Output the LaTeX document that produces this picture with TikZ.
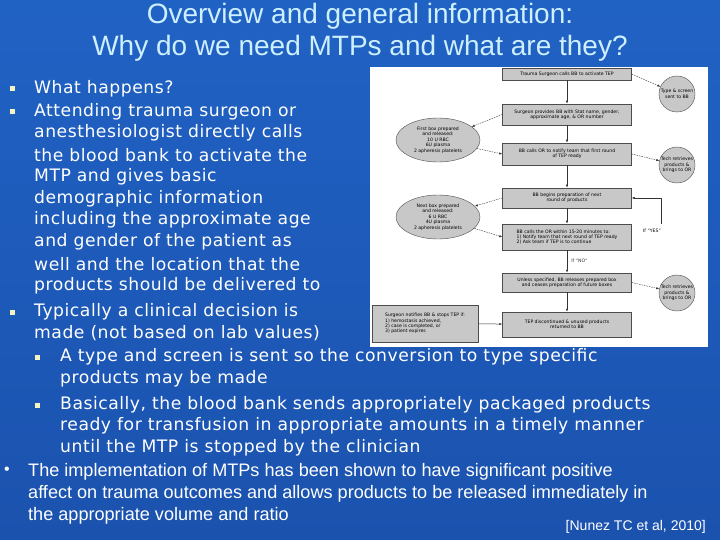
\documentclass[tikz,border=0pt]{standalone}
\usepackage{fontspec}
\setmainfont{DejaVu Sans}
\newfontfamily\arialf{Liberation Sans}
\newfontfamily\bodyf[LetterSpace=3]{DejaVu Sans}
\usetikzlibrary{arrows.meta,shapes.geometric}
\definecolor{bg}{HTML}{2062C4}
\definecolor{bgd}{HTML}{1B52AE}
\definecolor{ttl}{HTML}{CDEFFF}
\definecolor{bul}{HTML}{F4F4C0}
\definecolor{fbox}{HTML}{C8C8C8}
\tikzset{
  line/.style={anchor=west,text=white,font=\bodyf\fontsize{17.2}{19}\selectfont,inner sep=0pt},
  sq/.style={fill=bul,minimum size=5pt,inner sep=0pt},
  fb/.style={draw=black!70,fill=fbox,line width=0.5pt,font=\fontsize{4.6}{5.4}\selectfont,align=center,inner sep=1pt},
  el/.style={draw=black!70,fill=fbox,ellipse,font=\fontsize{4.6}{5.4}\selectfont,align=center,inner sep=0pt},
  ci/.style={draw=black!70,fill=fbox,circle,font=\fontsize{4.6}{5.4}\selectfont,align=center,inner sep=0pt,minimum size=36pt},
  ar/.style={-{Latex[length=3pt]},line width=0.5pt,black!80},
  da/.style={-{Latex[length=3pt]},line width=0.4pt,black!80,dashed,dash pattern=on 1.5pt off 1pt},
  lab/.style={font=\fontsize{4.6}{5.4}\selectfont,inner sep=0pt}
}
\begin{document}
\begin{tikzpicture}[x=1pt,y=-1pt]
\useasboundingbox (0,0) rectangle (720,540);
\shade[top color=bg,bottom color=bgd] (0,0) rectangle (720,540);
% title
\node[text=ttl,font=\arialf\fontsize{28}{32}\selectfont,align=center] (title) at (360,32) {Overview and general information:\\Why do we need MTPs and what are they?};
% flowchart
\fill[white] (370,67) rectangle (708,347);
\node[fb,minimum width=129pt,minimum height=12pt] (b1) at (567,74) {Trauma Surgeon calls BB to activate TEP};
\node[fb,minimum width=129pt,minimum height=21pt] (b2) at (567,114.5) {Surgeon provides BB with Stat name, gender,\\approximate age, \& OR number};
\node[fb,minimum width=129pt,minimum height=22pt] (b3) at (567,154) {BB calls OR to notify team that first round\\of TEP ready};
\node[fb,minimum width=129pt,minimum height=20pt] (b4) at (567,198) {BB begins preparation of next\\round of products};
\node[fb,minimum width=129pt,minimum height=26pt,align=left] (b5) at (567,237) {BB calls the OR within 15-20 minutes to:\\1) Notify team that next round of TEP ready\\2) Ask team if TEP is to continue};
\node[fb,minimum width=129pt,minimum height=19pt] (b6) at (567,282.5) {Unless specified, BB releases prepared box\\and ceases preparation of future boxes};
\node[fb,minimum width=129pt,minimum height=25pt] (b7) at (567,324.5) {TEP discontinued \& unused products\\returned to BB};
\node[fb,minimum width=106pt,minimum height=37pt,align=left] (lb) at (425,323.5) {Surgeon notifies BB \& stops TEP if:\\1) hemostasis achieved,\\2) case is completed, or\\3) patient expires};
\node[el,minimum width=84pt,minimum height=44pt] (e1) at (438,140) {First box prepared\\and released:\\10 U RBC\\6U plasma\\2 apheresis platelets};
\node[el,minimum width=84pt,minimum height=44pt] (e2) at (438,217) {Next box prepared\\and released:\\6 U RBC\\4U plasma\\2 apheresis platelets};
\node[ci] (c1) at (677,94) {Type \& screen\\sent to BB};
\node[ci] (c2) at (677,165) {Tech retrieves\\products \&\\brings to OR};
\node[ci] (c3) at (677,293) {Tech retrieves\\products \&\\brings to OR};
\draw[ar] (b1) -- (b2);
\draw[ar] (b2) -- (b3);
\draw[ar] (b3) -- (b4);
\draw[ar] (b4) -- (b5);
\draw[ar] (b5) -- node[lab,right=4pt,pos=0.45] (no) {If ``NO''} (b6);
\draw[ar] (b6) -- (b7);
\draw[ar] (lb) -- (b7);
\draw[da] (b1.east) -- (c1);
\draw[da] (b2.west) -- (e1);
\draw[da] (e1) -- (b3.west);
\draw[da] (b3.east) -- (c2);
\draw[da] (b4.west) -- (e2);
\draw[da] (e2) -- (b5.west);
\draw[da] (b6.east) -- (c3);
\node[lab] (yes) at (652,231) {If ``YES''};
\coordinate (yc) at (661,224);
\draw[ar,line width=0.4pt] (yc) |- (b4.east);
% body
\node[sq] (s1) at (12,89) {};
\node[sq] (s2) at (12,112) {};
\node[sq] (s3) at (12,312) {};
\node[sq] (s4) at (37,357) {};
\node[sq] (s5) at (37,405) {};
\node[line] (t1) at (34,89) {What happens?};
\node[line] (t2) at (34,112) {Attending trauma surgeon or};
\node[line] (t3) at (34,133) {anesthesiologist directly calls};
\node[line] (t4) at (34,155) {the blood bank to activate the};
\node[line] (t5) at (34,177) {MTP and gives basic};
\node[line] (t6) at (34,199) {demographic information};
\node[line] (t7) at (34,220) {including the approximate age};
\node[line] (t8) at (34,242) {and gender of the patient as};
\node[line] (t9) at (34,264) {well and the location that the};
\node[line] (t10) at (34,286) {products should be delivered to};
\node[line] (t11) at (34,312) {Typically a clinical decision is};
\node[line] (t12) at (34,333) {made (not based on lab values)};
\node[line] (t13) at (60,357) {A type and screen is sent so the conversion to type specific};
\node[line] (t14) at (60,379) {products may be made};
\node[line] (t15) at (60,405) {Basically, the blood bank sends appropriately packaged products};
\node[line] (t16) at (60,426) {ready for transfusion in appropriate amounts in a timely manner};
\node[line] (t17) at (60,448) {until the MTP is stopped by the clinician};
\node[text=white,font=\arialf\fontsize{16}{18}\selectfont,inner sep=0pt] (dot) at (7,471) {•};
\node[anchor=north west,text=white,font=\arialf\fontsize{18.1}{22}\selectfont,align=left,inner sep=0pt] (last) at (28,463) {The implementation of MTPs has been shown to have significant positive\\affect on trauma outcomes and allows products to be released immediately in\\the appropriate volume and ratio};
\node[anchor=east,text=white,font=\arialf\fontsize{14}{16}\selectfont,inner sep=0pt] (cite) at (706,527) {[Nunez TC et al, 2010]};
\end{tikzpicture}
\end{document}
